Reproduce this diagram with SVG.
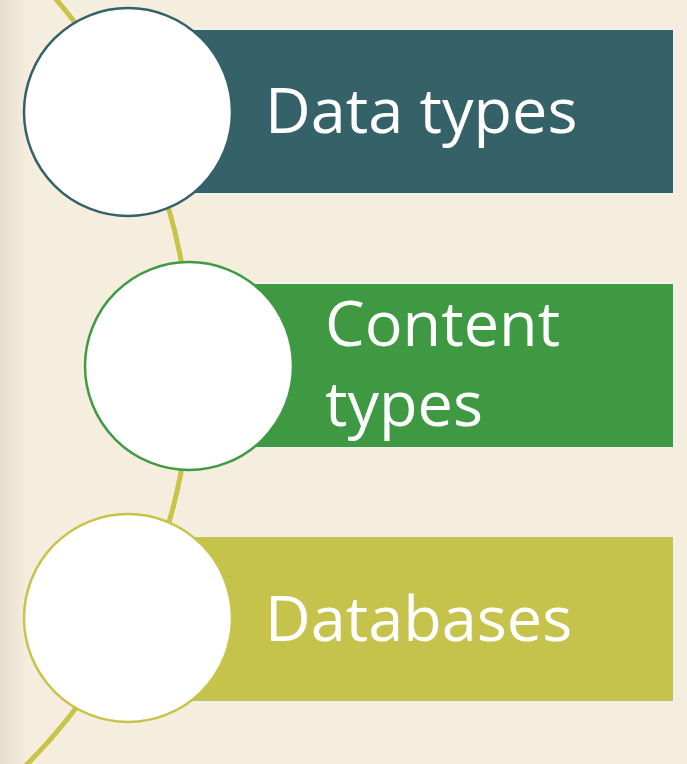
<svg xmlns="http://www.w3.org/2000/svg" width="687" height="764" viewBox="0 0 687 764">
  <defs>
    <linearGradient id="edge" x1="0" y1="0" x2="1" y2="0">
      <stop offset="0" stop-color="#E4DDCF"/>
      <stop offset="1" stop-color="#F5EEDE"/>
    </linearGradient>
    <style>
      .bar { stroke: #EEF1EE; stroke-width: 2; }
      .disc { fill: #FFFFFF; stroke-width: 2.5; }
      .label { font-family: "Open Sans", "Noto Sans", sans-serif; font-size: 63px; fill: #FFFFFF; }
      .arc { fill: none; stroke: #C8C44A; stroke-width: 5; }
    </style>
  </defs>
  <rect x="0" y="0" width="687" height="764" fill="#F5EEDE"/>
  <rect x="0" y="0" width="26" height="764" fill="url(#edge)"/>

  <g id="connectors">
    <circle class="arc" cx="-375" cy="366" r="566"/>
  </g>

  <g id="node-data-types">
    <rect class="bar" x="189" y="29" width="485" height="165" fill="#346268"/>
    <circle class="disc" cx="128" cy="112" r="104" stroke="#336268"/>
    <text class="label" x="265" y="133">Data types</text>
  </g>

  <g id="node-content-types">
    <rect class="bar" x="250" y="283" width="424" height="165" fill="#3E9942"/>
    <circle class="disc" cx="189" cy="366" r="104" stroke="#3E9A43"/>
    <text class="label" x="325" y="346">Content</text>
    <text class="label" x="325" y="426">types</text>
  </g>

  <g id="node-databases">
    <rect class="bar" x="189" y="536" width="485" height="166" fill="#C5C34B"/>
    <circle class="disc" cx="128" cy="618" r="104" stroke="#C8C44A"/>
    <text class="label" x="265" y="641">Databases</text>
  </g>
</svg>
